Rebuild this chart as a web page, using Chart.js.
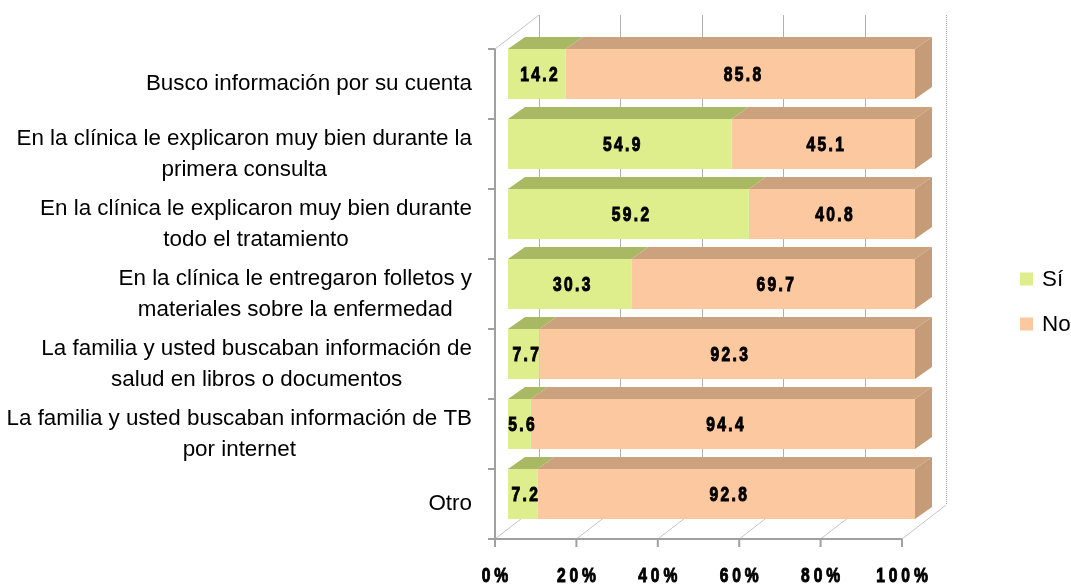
<!DOCTYPE html>
<html>
<head>
<meta charset="utf-8">
<script src="https://cdn.jsdelivr.net/npm/chart.js@4"></script>
<style>
  body { margin: 0; background: #fff; }
</style>
</head>
<body>
<canvas id="grafico" width="1071" height="587"></canvas>
<script>
const categorias = [
    ["Busco información por su cuenta"],
    ["En la clínica le explicaron muy bien durante la", "primera consulta"],
    ["En la clínica le explicaron muy bien durante", "todo el tratamiento"],
    ["En la clínica le entregaron folletos y", "materiales sobre la enfermedad"],
    ["La familia y usted buscaban información de", "salud en libros o documentos"],
    ["La familia y usted buscaban información de TB", "por internet"],
    ["Otro"]
]
const valoresSi = [14.2, 54.9, 59.2, 30.3, 7.7, 5.6, 7.2]
const valoresNo = [85.8, 45.1, 40.8, 69.7, 92.3, 94.4, 92.8]
const ticksX = [0, 20, 40, 60, 80, 100]

const colorSi = '#dfee8c'
const colorNo = '#fcc8a0'
const topeSi = '#a9b862'
const topeNo = '#cca27e'
const lado = '#c69c78'

// desplazamientos del efecto 3D
const frente = {dx: -13, dy: 10}
const fondo = {dx: 31, dy: -24}
const prof = {dx: 17, dy: -12}

const fuenteTexto = '22.4px "Liberation Sans", Arial, sans-serif'
const fuenteNum = 'bold 20px "Liberation Sans", Arial, sans-serif'

const linea = (ctx, x1, y1, x2, y2) => {
    ctx.beginPath()
    ctx.moveTo(x1, y1)
    ctx.lineTo(x2, y2)
    ctx.stroke()
}

// texto angosto y grueso: se comprime en horizontal
const textoAngosto = (ctx, texto, x, y, espacio) => {
    ctx.save()
    ctx.translate(x, y)
    ctx.scale(0.78, 1)
    ctx.letterSpacing = espacio + 'px'
    let ancho = ctx.measureText(texto).width - espacio
    ctx.textAlign = 'left'
    ctx.strokeStyle = '#000'
    ctx.lineWidth = 1
    ctx.strokeText(texto, -ancho / 2, 0)
    ctx.fillText(texto, -ancho / 2, 0)
    ctx.restore()
}

const caja3d = {
    id: 'caja3d',
    beforeDatasetsDraw(chart) {
        const ctx = chart.ctx
        const area = chart.chartArea
        const x = chart.scales.x
        ctx.save()
        // pared del fondo
        ctx.strokeStyle = '#b0b0b0'
        ctx.lineWidth = 1
        ticksX.forEach(v => {
            let px = Math.round(x.getPixelForValue(v) + fondo.dx) + 0.5
            if (v == 100) ctx.setLineDash([1, 1])
            linea(ctx, px, area.top + fondo.dy, px, area.bottom + fondo.dy)
            ctx.setLineDash([])
        })
        // piso
        ctx.strokeStyle = '#c4c4c4'
        ticksX.forEach(v => {
            let px = x.getPixelForValue(v)
            linea(ctx, px + frente.dx, area.bottom + frente.dy, px + fondo.dx, area.bottom + fondo.dy)
        })
        // diagonal arriba izquierda
        linea(ctx, area.left + frente.dx, area.top + frente.dy, area.left + fondo.dx, area.top + fondo.dy)
        // ejes del frente
        ctx.strokeStyle = '#a0a0a0'
        ctx.lineWidth = 2
        let x0 = area.left + frente.dx
        let yb = area.bottom + frente.dy
        linea(ctx, x0, area.top + frente.dy, x0, yb)
        linea(ctx, x0, yb, area.right + frente.dx, yb)
        let paso = (area.bottom - area.top) / categorias.length
        for (let i = 0; i <= categorias.length; i++) {
            let py = area.top + frente.dy + i * paso
            linea(ctx, x0 - 7, py, x0, py)
        }
        ticksX.forEach(v => {
            let px = x.getPixelForValue(v) + frente.dx
            linea(ctx, px, yb, px, yb + 8)
        })
        ctx.restore()
    },
    afterDatasetsDraw(chart) {
        const ctx = chart.ctx
        const metaSi = chart.getDatasetMeta(0)
        const metaNo = chart.getDatasetMeta(1)
        ctx.save()
        ;[metaSi, metaNo].forEach((meta, d) => {
            meta.data.forEach(bar => {
                let top = bar.y - bar.height / 2
                let bottom = bar.y + bar.height / 2
                let x1 = bar.base
                let x2 = bar.x
                ctx.fillStyle = d == 0 ? topeSi : topeNo
                ctx.beginPath()
                ctx.moveTo(x1, top)
                ctx.lineTo(x2, top)
                ctx.lineTo(x2 + prof.dx, top + prof.dy)
                ctx.lineTo(x1 + prof.dx, top + prof.dy)
                ctx.closePath()
                ctx.fill()
                if (d == 1) {
                    ctx.fillStyle = lado
                    ctx.beginPath()
                    ctx.moveTo(x2, top)
                    ctx.lineTo(x2 + prof.dx, top + prof.dy)
                    ctx.lineTo(x2 + prof.dx, bottom + prof.dy)
                    ctx.lineTo(x2, bottom)
                    ctx.closePath()
                    ctx.fill()
                }
            })
        })
        // etiquetas de valores
        ctx.fillStyle = '#000'
        ctx.font = fuenteNum
        ctx.textBaseline = 'middle'
        chart.data.datasets.forEach((ds, d) => {
            chart.getDatasetMeta(d).data.forEach((bar, i) => {
                textoAngosto(ctx, ds.data[i].toFixed(1), (bar.base + bar.x) / 2 + 2, bar.y + 1, 3)
            })
        })
        ctx.restore()
    },
    afterDraw(chart) {
        const ctx = chart.ctx
        const area = chart.chartArea
        const x = chart.scales.x
        const y = chart.scales.y
        ctx.save()
        ctx.fillStyle = '#000'
        // etiquetas del eje x
        ctx.font = fuenteNum
        ctx.textBaseline = 'middle'
        ticksX.forEach(v => {
            textoAngosto(ctx, v + '%', x.getPixelForValue(v) + frente.dx, 576, 5)
        })
        // etiquetas de categorias
        ctx.font = fuenteTexto
        ctx.letterSpacing = '0px'
        ctx.textAlign = 'center'
        let derecha = area.left + frente.dx - 23
        categorias.forEach((lineas, i) => {
            let ancho = Math.max(...lineas.map(t => ctx.measureText(t).width))
            let cx = derecha - ancho / 2
            let cy = y.getPixelForValue(i) + frente.dy
            let alto = 31
            lineas.forEach((t, j) => {
                ctx.fillText(t, cx, cy + (j - (lineas.length - 1) / 2) * alto)
            })
        })
        // leyenda
        ctx.textAlign = 'left'
        chart.data.datasets.forEach((ds, d) => {
            let ly = 279 + d * 45
            ctx.fillStyle = ds.backgroundColor
            ctx.fillRect(1020, ly - 6.5, 13, 13)
            ctx.fillStyle = '#000'
            ctx.fillText(ds.label, 1042, ly + 1)
        })
        ctx.restore()
    }
}

const ctx = document.getElementById('grafico')

let grafico = new Chart(ctx, {
    type: 'bar',
    data: {
        labels: categorias,
        datasets: [{
            label: 'Sí',
            data: valoresSi,
            backgroundColor: colorSi,
            barPercentage: 0.715,
            categoryPercentage: 1
        }, {
            label: 'No',
            data: valoresNo,
            backgroundColor: colorNo,
            barPercentage: 0.715,
            categoryPercentage: 1
        }]
    },
    options: {
        indexAxis: 'y',
        responsive: false,
        animation: false,
        layout: {
            padding: {top: 39, right: 156, left: 0, bottom: 0}
        },
        plugins: {
            legend: {display: false},
            tooltip: {enabled: false}
        },
        scales: {
            x: {
                stacked: true,
                min: 0,
                max: 100,
                ticks: {display: false, stepSize: 20},
                grid: {display: false},
                border: {display: false},
                afterFit(scale) { scale.height = 58 }
            },
            y: {
                stacked: true,
                ticks: {display: false},
                grid: {display: false},
                border: {display: false},
                afterFit(scale) { scale.width = 508 }
            }
        }
    },
    plugins: [caja3d]
})
</script>
</body>
</html>
